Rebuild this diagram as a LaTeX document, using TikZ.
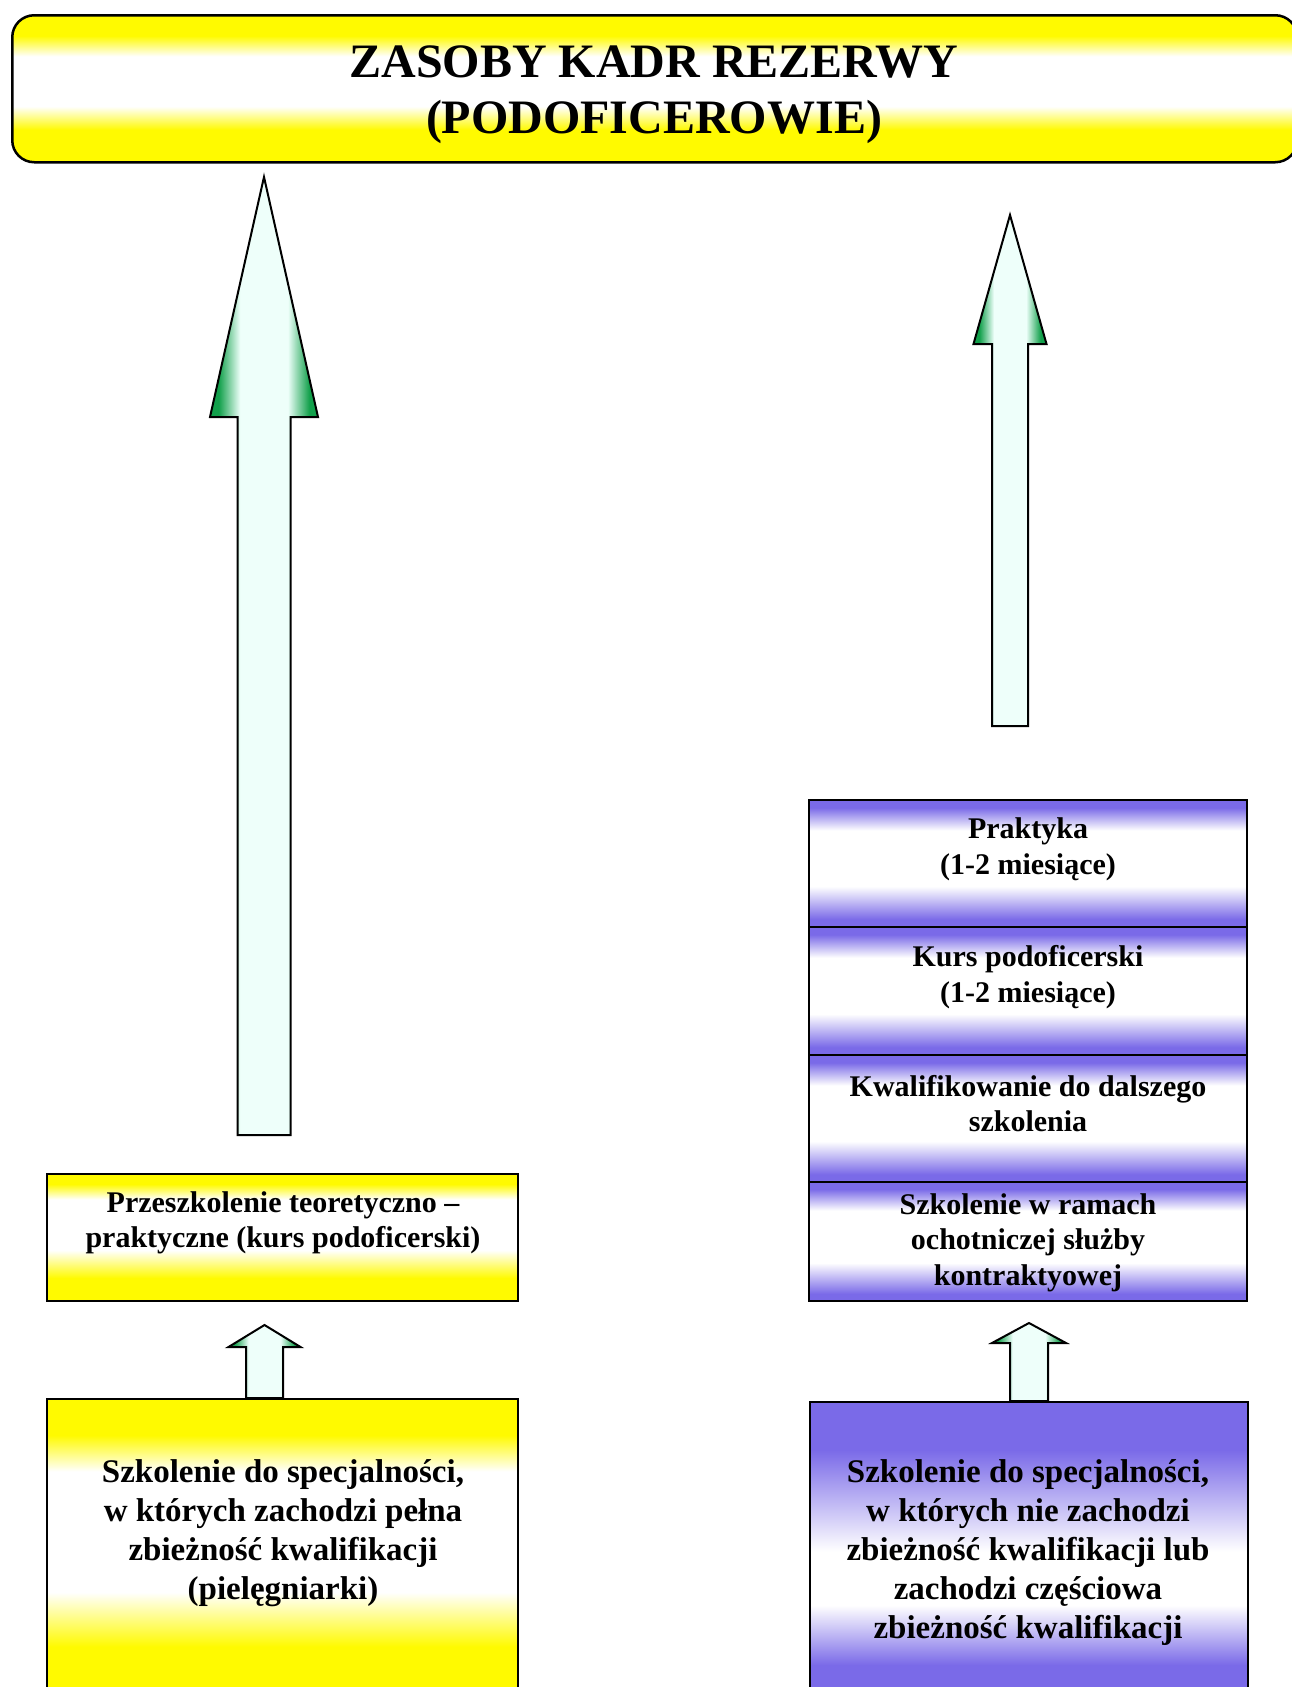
\documentclass[tikz,border=0pt]{standalone}
\usepackage{fontspec}
\setmainfont{Liberation Serif}
\usetikzlibrary{positioning,calc}

\definecolor{boxyellow}{RGB}{255,250,0}
\definecolor{boxviolet}{RGB}{122,106,232}
\definecolor{arrowgreen}{RGB}{18,160,75}
\definecolor{arrowmint}{RGB}{238,255,250}

% Shadings (bands at top and bottom, white in the middle)
\pgfdeclareverticalshading{bannerband}{100bp}{color(0bp)=(boxyellow); color(25bp)=(boxyellow);
  color(36bp)=(boxyellow); color(44bp)=(white); color(61bp)=(white); color(68bp)=(boxyellow);
  color(75bp)=(boxyellow); color(100bp)=(boxyellow)}
\pgfdeclareverticalshading{yband}{100bp}{color(0bp)=(boxyellow); color(25bp)=(boxyellow);
  color(34bp)=(boxyellow); color(45bp)=(white); color(65bp)=(white); color(71bp)=(boxyellow);
  color(75bp)=(boxyellow); color(100bp)=(boxyellow)}
\pgfdeclareverticalshading{ybigband}{100bp}{color(0bp)=(boxyellow); color(25bp)=(boxyellow);
  color(34bp)=(boxyellow); color(43bp)=(white); color(63bp)=(white); color(69bp)=(boxyellow);
  color(75bp)=(boxyellow); color(100bp)=(boxyellow)}
\pgfdeclareverticalshading{vband}{100bp}{color(0bp)=(boxviolet); color(25bp)=(boxviolet);
  color(28bp)=(boxviolet); color(41bp)=(white); color(63bp)=(white); color(72bp)=(boxviolet);
  color(75bp)=(boxviolet); color(100bp)=(boxviolet)}
\pgfdeclareverticalshading{vbigband}{100bp}{color(0bp)=(boxviolet); color(25bp)=(boxviolet);
  color(31bp)=(boxviolet); color(41bp)=(white); color(50bp)=(white); color(67bp)=(boxviolet);
  color(75bp)=(boxviolet); color(100bp)=(boxviolet)}
\pgfdeclarehorizontalshading{greenarrow}{100bp}{color(0bp)=(arrowgreen); color(25bp)=(arrowgreen);
  color(29bp)=(arrowgreen); color(39bp)=(arrowmint); color(61bp)=(arrowmint); color(71bp)=(arrowgreen);
  color(75bp)=(arrowgreen); color(100bp)=(arrowgreen)}

\tikzset{
  banner/.style={draw=black, line width=2.5pt, rounded corners=22pt, shading=bannerband,
    anchor=north west},
  titletext/.style={align=center, font=\fontsize{48}{56}\selectfont\bfseries},
  ybox/.style={draw=black, line width=2pt, shading=yband, anchor=north west},
  ybigbox/.style={draw=black, line width=2pt, shading=ybigband, anchor=north west},
  vbox/.style={draw=black, line width=2pt, shading=vband, anchor=north west,
    minimum width=438pt, outer sep=0pt},
  vbigbox/.style={draw=black, line width=2pt, shading=vbigband, anchor=north west},
  boxtext/.style={align=center, font=\fontsize{30}{35.5}\selectfont\bfseries},
  bigtext/.style={align=center, font=\fontsize{33}{39}\selectfont\bfseries},
  blockarrow/.style={draw=black, line width=2pt, shading=greenarrow, line join=miter}
}

% Block arrow: base, tip, half shaft, half head, head length
\newcommand{\blockarr}[5]{
  \path[blockarrow] let \p1=(#1), \p2=(#2) in
    (\x1-#3,\y1) -- (\x1-#3,\y2-#5) -- (\x1-#4,\y2-#5) -- (\x2,\y2)
    -- (\x1+#4,\y2-#5) -- (\x1+#3,\y2-#5) -- (\x1+#3,\y1) -- cycle;
}

\begin{document}
\begin{tikzpicture}[x=1pt,y=-1pt]
  \useasboundingbox (0,0) rectangle (1292,1687);

  % The banner
  \node[banner, minimum width=1285pt, minimum height=147pt] (zasoby) at (11,14) {};
  \node[titletext] (zasoby-t) at (654,95) {ZASOBY KADR REZERWY\\(PODOFICEROWIE)};

  % Left column
  \node[ybox, minimum width=471pt, minimum height=127pt] (przesz) at (46,1173) {};
  \node[boxtext] (przesz-t) at (283,1223)
    {Przeszkolenie teoretyczno --\\praktyczne (kurs podoficerski)};
  \node[ybigbox, minimum width=471pt, minimum height=302pt] (pelna) at (46,1398) {};
  \node[bigtext] (pelna-t) at (283,1533)
    {Szkolenie do specjalności,\\w których zachodzi pełna\\zbieżność kwalifikacji\\(pielęgniarki)};

  % Right column
  \node[vbox, minimum height=127pt] (prak) at (809,800) {};
  \node[vbox, minimum height=128pt, below=0pt of prak] (kurs) {};
  \node[vbox, minimum height=127pt, below=0pt of kurs] (kwal) {};
  \node[vbox, minimum height=119pt, below=0pt of kwal] (ramach) {};
  \node[boxtext] (prak-t) at ([yshift=14pt]prak.center) {Praktyka\\(1-2 miesiące)};
  \node[boxtext] (kurs-t) at ([yshift=14pt]kurs.center) {Kurs podoficerski\\(1-2 miesiące)};
  \node[boxtext] (kwal-t) at ([yshift=15pt]kwal.center) {Kwalifikowanie do dalszego\\szkolenia};
  \node[boxtext] (ramach-t) at ([yshift=-1pt]ramach.center)
    {Szkolenie w ramach\\ochotniczej służby\\kontraktyowej};
  \node[vbigbox, minimum width=438pt, minimum height=299pt] (czesc) at (809,1401) {};
  \node[bigtext] (czesc-t) at (1028,1553)
    {Szkolenie do specjalności,\\w których nie zachodzi\\zbieżność kwalifikacji lub\\zachodzi częściowa\\zbieżność kwalifikacji};

  % Arrow ends
  \coordinate (la-base) at (264,1135);
  \coordinate (la-tip) at (264,177);
  \coordinate (ra-base) at (1010,726);
  \coordinate (ra-tip) at (1010,215);
  \coordinate (lsa-base) at (264.5,1398);
  \coordinate (lsa-tip) at (264.5,1325);
  \coordinate (rsa-base) at (1029,1401);
  \coordinate (rsa-tip) at (1029,1323);

  % The arrows
  \blockarr{la-base}{la-tip}{26.5pt}{54pt}{240pt}
  \blockarr{ra-base}{ra-tip}{18pt}{36.5pt}{129pt}
  \blockarr{lsa-base}{lsa-tip}{18.5pt}{36pt}{22pt}
  \blockarr{rsa-base}{rsa-tip}{19pt}{37pt}{20pt}
\end{tikzpicture}
\end{document}
